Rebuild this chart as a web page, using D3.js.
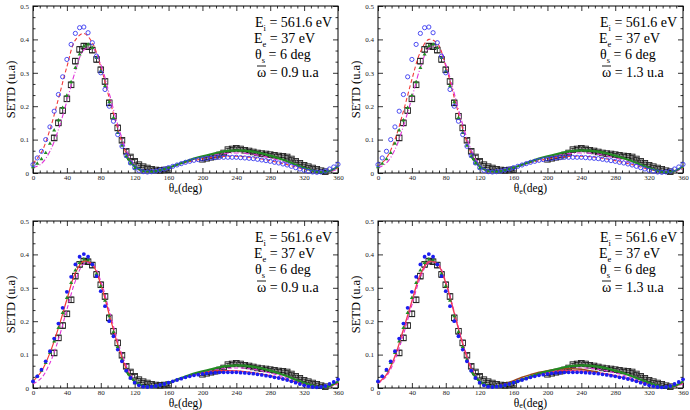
<!DOCTYPE html>
<html>
<head>
<meta charset="utf-8">
<script src="https://cdn.jsdelivr.net/npm/d3@7"></script>
<style>
  body { margin: 0; background: #fff; }
  .tick line { stroke: #000; stroke-width: 0.8; }
</style>
</head>
<body>
<svg id="chart" width="690" height="410"></svg>
<script>
// ── Data ───────────────────────────────────────────────────────────────────
const THETA_DOT = [0,5,10,15,20,25,30,35,40,45,50,55,60,65,70,75,80,85,90,95,100,105,110,115,120,
  125,130,135,140,145,150,155,160,165,170,175,180,185,190,195,200,205,210,215,220,225,230,235,240,
  245,250,255,260,265,270,275,280,285,290,295,300,305,310,315,320,325,330,335,340,345,350,355,360];

const BLUE_OPEN = [0.025,0.045,0.065,0.100,0.138,0.185,0.235,0.288,0.340,0.385,0.418,0.435,0.437,0.420,0.390,
  0.350,0.300,0.250,0.200,0.155,0.115,0.080,0.052,0.030,0.016,0.008,0.004,0.003,0.004,0.006,0.009,0.012,
  0.016,0.020,0.024,0.028,0.032,0.035,0.038,0.040,0.042,0.044,0.045,0.046,0.047,0.047,0.047,0.047,0.047,
  0.046,0.045,0.044,0.043,0.041,0.039,0.037,0.035,0.032,0.030,0.027,0.024,0.020,0.016,0.012,0.008,0.005,
  0.003,0.002,0.003,0.006,0.012,0.018,0.026];

const BLUE_FILLED = [0.020,0.035,0.055,0.080,0.110,0.148,0.193,0.240,0.288,0.333,0.370,0.393,0.401,0.393,0.370,
  0.335,0.290,0.245,0.200,0.155,0.115,0.080,0.052,0.030,0.016,0.008,0.004,0.003,0.004,0.006,0.009,0.012,
  0.016,0.020,0.024,0.028,0.032,0.035,0.038,0.040,0.042,0.044,0.045,0.046,0.047,0.047,0.047,0.047,0.047,
  0.046,0.045,0.044,0.043,0.041,0.039,0.037,0.035,0.032,0.030,0.027,0.024,0.020,0.016,0.012,0.008,0.005,
  0.003,0.002,0.003,0.006,0.012,0.018,0.026];

const THETA_GREEN_DOT = [0,5,10,15,20,25,30,35,40,45,50,55,60,65,70,75,80,85,90,95,100,105,110,115,120];
const GREEN_TOP = [0.018,0.028,0.042,0.060,0.088,0.128,0.158,0.195,0.232,0.272,0.315,0.355,0.380,0.385,0.375,
  0.345,0.305,0.260,0.212,0.165,0.120,0.082,0.050,0.028,0.014];
const GREEN_BOTTOM = [0.020,0.035,0.052,0.075,0.105,0.140,0.180,0.225,0.270,0.315,0.352,0.375,0.385,0.383,0.370,
  0.342,0.305,0.262,0.215,0.168,0.123,0.085,0.053,0.030,0.015];

const THETA_GREEN_LINE = [110,120,130,140,150,160,170,180,190,200,210,220,230,240,250,260,270,280,290,300,
  310,320,330,340,350,360];
const GREEN_LINE = [0.050,0.020,0.006,0.004,0.008,0.016,0.025,0.034,0.043,0.050,0.056,0.062,0.066,0.068,0.067,
  0.064,0.059,0.052,0.044,0.035,0.025,0.015,0.007,0.002,0.006,0.020];

const THETA_LINE = [0,10,20,30,40,50,60,70,80,90,100,110,120,130,140,150,160,170,180,190,200,210,220,230,240,
  250,260,270,280,290,300,310,320,330,340,350,360];
const RED_TL = [0.028,0.062,0.130,0.222,0.318,0.398,0.418,0.390,0.318,0.224,0.132,0.058,0.018,0.004,0.004,0.009,
  0.016,0.024,0.031,0.037,0.042,0.046,0.049,0.050,0.050,0.049,0.046,0.042,0.037,0.031,0.025,0.018,0.011,0.006,
  0.003,0.005,0.015];
const MAG_TL = [0.015,0.028,0.065,0.130,0.215,0.305,0.368,0.375,0.325,0.238,0.145,0.070,0.024,0.006,0.003,0.007,
  0.015,0.024,0.033,0.041,0.048,0.053,0.057,0.059,0.060,0.059,0.056,0.051,0.045,0.038,0.030,0.022,0.014,0.007,
  0.003,0.004,0.012];
const RED_TR = [0.020,0.045,0.100,0.185,0.280,0.362,0.400,0.388,0.320,0.226,0.132,0.058,0.018,0.004,0.004,0.009,
  0.016,0.024,0.031,0.037,0.042,0.046,0.049,0.050,0.050,0.049,0.046,0.042,0.037,0.031,0.025,0.018,0.011,0.006,
  0.003,0.005,0.015];
const MAG_TR = [0.015,0.030,0.070,0.140,0.225,0.315,0.373,0.378,0.325,0.238,0.145,0.070,0.024,0.006,0.003,0.007,
  0.015,0.024,0.033,0.041,0.048,0.053,0.057,0.059,0.060,0.059,0.056,0.051,0.045,0.038,0.030,0.022,0.014,0.007,
  0.003,0.004,0.012];
const RED_BL = [0.020,0.050,0.105,0.180,0.265,0.345,0.380,0.370,0.310,0.220,0.130,0.058,0.018,0.004,0.003,0.008,
  0.016,0.025,0.033,0.040,0.046,0.050,0.052,0.052,0.051,0.049,0.046,0.042,0.037,0.031,0.025,0.018,0.011,0.006,
  0.003,0.005,0.015];
const MAG_BL = [0.012,0.030,0.075,0.145,0.235,0.320,0.372,0.372,0.320,0.232,0.140,0.068,0.023,0.006,0.003,0.007,
  0.015,0.024,0.033,0.041,0.048,0.053,0.057,0.059,0.060,0.059,0.056,0.051,0.045,0.038,0.030,0.022,0.014,0.007,
  0.003,0.004,0.012];
const RED_BR = [0.015,0.040,0.095,0.175,0.260,0.340,0.378,0.372,0.315,0.224,0.132,0.058,0.018,0.004,0.003,0.008,
  0.016,0.025,0.033,0.040,0.046,0.050,0.052,0.052,0.051,0.049,0.046,0.042,0.037,0.031,0.025,0.018,0.011,0.006,
  0.003,0.005,0.015];
const MAG_BR = [0.013,0.035,0.085,0.160,0.248,0.330,0.375,0.374,0.318,0.228,0.136,0.064,0.021,0.005,0.003,0.007,
  0.015,0.024,0.033,0.041,0.048,0.053,0.057,0.059,0.060,0.059,0.056,0.051,0.045,0.038,0.030,0.022,0.014,0.007,
  0.003,0.004,0.012];
const THETA_BROWN = [130,140,150,160,170,180,190,200,210,220,230,240,250,260];
const BROWN_BR = [0.003,0.005,0.012,0.022,0.032,0.040,0.047,0.052,0.056,0.058,0.058,0.056,0.052,0.048];

const THETA_EXP = [25,30,35,40,45,50,55,60,65,70,75,80,85,90,95,100,105,110,115,120,125,130,135,140,145,150,155,160,
  200,205,210,215,220,225,230,235,240,245,250,255,260,265,270,275,280,285,290,295,300,305,310,315,320,325,330,335,340,345];
const SETD_EXP = [0.105,0.150,0.187,0.222,0.264,0.335,0.370,0.380,0.378,0.368,0.340,0.309,0.274,0.210,0.170,0.135,
  0.098,0.065,0.048,0.035,0.025,0.019,0.015,0.011,0.009,0.008,0.009,0.010,
  0.041,0.044,0.047,0.050,0.054,0.060,0.070,0.072,0.074,0.072,0.068,0.066,0.063,0.060,0.058,0.057,0.055,0.053,
  0.051,0.050,0.048,0.042,0.035,0.029,0.023,0.019,0.015,0.011,0.007,0.004];
const ERR_EXP = [0.008,0.008,0.008,0.008,0.008,0.008,0.008,0.008,0.008,0.008,0.008,0.008,0.008,0.008,0.008,0.008,
  0.006,0.006,0.005,0.005,0.004,0.004,0.004,0.004,0.004,0.004,0.004,0.004,
  0.004,0.004,0.004,0.004,0.004,0.004,0.004,0.004,0.004,0.004,0.004,0.004,0.004,0.004,0.004,0.004,0.004,0.004,
  0.004,0.004,0.004,0.004,0.004,0.004,0.004,0.004,0.004,0.004,0.004,0.004];

const X_TICKS = [0,40,80,120,160,200,240,280,320,360];
const Y_TICKS = [0,0.1,0.2,0.3,0.4,0.5];
const OMEGAS = ["0.9","1.3","0.9","1.3"];

// ── Pick an installed Times-like font (compare widths against the generic fallbacks)
function pickSerif() {
  const ctx = document.createElement("canvas").getContext("2d");
  const probe = "SETD 561.6 eV mmmwwwiii";
  const w = f => { ctx.font = `40px ${f}`; return ctx.measureText(probe).width; };
  const base = [w("monospace"), w("sans-serif")];
  const cands = ["Liberation Serif", "Times New Roman", "Tinos", "DejaVu Serif", "Noto Serif", "FreeSerif"];
  for (const c of cands) {
    const m = ["monospace", "sans-serif"].map((b, i) => w(`'${c}', ${b}`) !== base[i]);
    if (m[0] && m[1]) return `'${c}'`;
  }
  return "serif";
}
const SERIF = pickSerif();

// ── Layout ─────────────────────────────────────────────────────────────────
const W = 305, H = 167;
const RED = "#f23a3a", MAG = "#e032d8", GREEN = "#238b23", BLUE = "#3a3af0", BROWN = "#9a4a1c";

const PANELS = [
  { x: 33,  y: 6,   titleY: 19,   blue: BLUE_OPEN,   open: true,  green: GREEN_TOP,
    lines: [{ v: RED_TL, c: RED, dash: "4,2.5", w: 1.1 }, { v: MAG_TL, c: MAG, dash: "5,2,1,2", w: 1.1 }] },
  { x: 378, y: 6,   titleY: 19,   blue: BLUE_OPEN,   open: true,  green: GREEN_TOP,
    lines: [{ v: RED_TR, c: RED, dash: "4,2.5", w: 1.1 }, { v: MAG_TR, c: MAG, dash: "5,2,1,2", w: 1.1 }] },
  { x: 33,  y: 221, titleY: 18.5, blue: BLUE_FILLED, open: false, green: GREEN_BOTTOM,
    lines: [{ v: MAG_BL, c: MAG, dash: "4,2.5", w: 1.1 }, { v: RED_BL, c: RED, dash: null, w: 1.2 }] },
  { x: 378, y: 221, titleY: 18.5, blue: BLUE_FILLED, open: false, green: GREEN_BOTTOM, brown: true,
    lines: [{ v: MAG_BR, c: MAG, dash: "4,2.5", w: 1.1 }, { v: RED_BR, c: "#f23a5a", dash: null, w: 1.4 }] }
];

const svg = d3.select("#chart").attr("font-family", SERIF);

PANELS.forEach((p, pi) => {
  const g = svg.append("g").attr("transform", `translate(${p.x},${p.y})`);
  const x = d3.scaleLinear().domain([0, 360]).range([0, W]);
  const y = d3.scaleLinear().domain([0, 0.5]).range([H, 0]);

  const minorX = d3.range(0, 361, 8).filter(d => d % 40 !== 0);
  const minorY = d3.range(0, 0.5, 0.1 / 3).filter((d, i) => i % 3 !== 0);

  // Axes, ticks inside on all four sides
  g.append("g").attr("transform", `translate(0,${H})`)
    .call(d3.axisBottom(x).tickValues(X_TICKS).tickSize(-5).tickPadding(2).tickFormat(d3.format("d")));
  g.append("g").attr("transform", `translate(0,${H})`)
    .call(d3.axisBottom(x).tickValues(minorX).tickSize(-2.5).tickFormat(""));
  g.append("g").call(d3.axisTop(x).tickValues(X_TICKS).tickSize(-5).tickFormat(""));
  g.append("g").call(d3.axisTop(x).tickValues(minorX).tickSize(-2.5).tickFormat(""));
  g.append("g")
    .call(d3.axisLeft(y).tickValues(Y_TICKS).tickSize(-5).tickPadding(4)
      .tickFormat(d => d === 0 ? "0" : d3.format(".1f")(d)));
  g.append("g").call(d3.axisLeft(y).tickValues(minorY).tickSize(-2.5).tickFormat(""));
  g.append("g").attr("transform", `translate(${W},0)`)
    .call(d3.axisRight(y).tickValues(Y_TICKS).tickSize(-5).tickFormat(""));
  g.append("g").attr("transform", `translate(${W},0)`)
    .call(d3.axisRight(y).tickValues(minorY).tickSize(-2.5).tickFormat(""));
  g.selectAll(".domain").remove();
  g.selectAll("g").attr("font-family", SERIF);
  g.selectAll(".tick text").attr("font-size", 7).attr("fill", "#222");

  g.append("rect").attr("width", W).attr("height", H)
    .attr("fill", "none").attr("stroke", "#000").attr("stroke-width", 1);

  // Experiment: squares with error bars
  const expG = g.append("g");
  THETA_EXP.forEach((t, i) => {
    const cx = x(t), v = SETD_EXP[i], e = ERR_EXP[i];
    const y1 = y(v + e), y2 = y(Math.max(0, v - e));
    expG.append("line").attr("x1", cx).attr("x2", cx).attr("y1", y1).attr("y2", y2)
      .attr("stroke", "#000").attr("stroke-width", 0.8);
    [y1, y2].forEach(yy => expG.append("line")
      .attr("x1", cx - 2.5).attr("x2", cx + 2.5).attr("y1", yy).attr("y2", yy)
      .attr("stroke", "#000").attr("stroke-width", 0.8));
    expG.append("rect").attr("x", cx - 2.8).attr("y", y(v) - 2.8).attr("width", 5.6).attr("height", 5.6)
      .attr("fill", "none").attr("stroke", "#222").attr("stroke-width", 0.9);
  });

  const line = d3.line().curve(d3.curveCatmullRom);

  p.lines.forEach(l => {
    g.append("path")
      .attr("d", line(THETA_LINE.map((t, i) => [x(t), y(l.v[i])])))
      .attr("fill", "none").attr("stroke", l.c).attr("stroke-width", l.w)
      .attr("stroke-dasharray", l.dash);
  });

  if (p.brown) {
    g.append("path")
      .attr("d", line(THETA_BROWN.map((t, i) => [x(t), y(BROWN_BR[i])])))
      .attr("fill", "none").attr("stroke", BROWN).attr("stroke-width", 1.5);
  }

  g.append("path")
    .attr("d", line(THETA_GREEN_LINE.map((t, i) => [x(t), y(GREEN_LINE[i])])))
    .attr("fill", "none").attr("stroke", GREEN).attr("stroke-width", 2.2);

  const tri = d3.symbol().type(d3.symbolTriangle).size(7);
  g.append("g").selectAll("path")
    .data(THETA_GREEN_DOT.map((t, i) => [t, p.green[i]]))
    .join("path")
    .attr("transform", d => `translate(${x(d[0])},${y(d[1])})`)
    .attr("d", tri).attr("fill", GREEN);

  g.append("g").selectAll("circle")
    .data(THETA_DOT.map((t, i) => [t, p.blue[i]]))
    .join("circle")
    .attr("cx", d => x(d[0])).attr("cy", d => y(d[1]))
    .attr("r", p.open ? 2.1 : 1.9)
    .attr("fill", p.open ? "none" : "#1c1cf0")
    .attr("stroke", p.open ? BLUE : "none").attr("stroke-width", 0.9);

  // Axis titles
  g.append("text").attr("transform", `translate(-18,${H / 2}) rotate(-90)`)
    .attr("text-anchor", "middle").attr("font-size", 12.5).text("SETD (u.a)");
  const xt = g.append("text").attr("x", W / 2).attr("y", H + p.titleY)
    .attr("text-anchor", "middle").attr("font-size", 11.5);
  xt.append("tspan").text("θ");
  xt.append("tspan").attr("font-size", 8).attr("dy", 1.5).text("e");
  xt.append("tspan").attr("dy", -1.5).text("(deg)");

  // Parameters box
  const ann = g.append("g").attr("font-size", 14);
  const row = (yy, dx, main, sub, rest) => {
    const t = ann.append("text").attr("x", dx).attr("y", yy);
    t.append("tspan").text(main);
    if (sub) t.append("tspan").attr("font-size", 8.5).attr("dy", 3.5).text(sub);
    t.append("tspan").attr("dy", sub ? -3.5 : 0).text(rest);
  };
  row(21, 222, "E", "i", " = 561.6 eV");
  row(37, 221, "E", "e", " = 37 eV");
  row(53, 222, "θ", "s", " = 6 deg");
  row(71, 224, "ω", null, " = " + OMEGAS[pi] + " u.a");
  ann.append("line").attr("x1", 224).attr("x2", 233).attr("y1", 60).attr("y2", 60)
    .attr("stroke", "#000").attr("stroke-width", 0.9);
});
</script>
</body>
</html>
